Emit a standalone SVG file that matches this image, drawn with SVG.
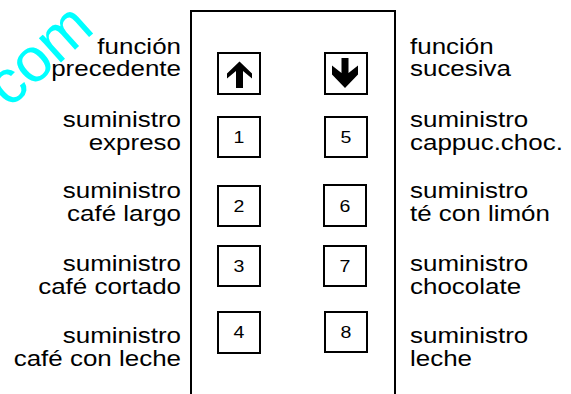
<svg xmlns="http://www.w3.org/2000/svg" width="571" height="394" viewBox="0 0 571 394">
<style>
.lbl{font-family:"Liberation Sans",Arial,sans-serif;font-size:22px;fill:#000}
.l{text-anchor:end}
.num{font-family:"Liberation Sans",Arial,sans-serif;font-size:17px;fill:#000;text-anchor:middle}
.btn{fill:#fff;stroke:#000;stroke-width:2}
.wm{font-family:"Liberation Sans",Arial,sans-serif;font-size:62px;fill:#00ffff}
</style>
<rect width="571" height="394" fill="#fff"/>
<text class="wm" transform="translate(9,109) rotate(-42)">com</text>
<g id="panel"><path d="M191,396 V11 H395 V396" fill="#fff" stroke="#000" stroke-width="2"/></g>

<g id="btn-up"><rect class="btn" x="218" y="53" width="42" height="41"/>
<polygon points="239.5,61.5 252,73.5 252,78.5 243,71 243,88 236,88 236,71 227,78.5 227,73.5" fill="#000"/></g>
<g id="btn-down"><rect class="btn" x="325" y="53" width="42" height="41"/>
<polygon points="341.5,58 348.5,58 348.5,73 358,65.5 358,74.5 345,88 332,74.5 332,65.5 341.5,73" fill="#000"/></g>
<g id="btn-1"><rect class="btn" x="218" y="117" width="42" height="40"/><text class="num" transform="translate(239,143) scale(1.15,1)">1</text></g>
<g id="btn-5"><rect class="btn" x="325" y="117" width="42" height="40"/><text class="num" transform="translate(346,143) scale(1.15,1)">5</text></g>
<g id="btn-2"><rect class="btn" x="218" y="186" width="42" height="40"/><text class="num" transform="translate(239,212) scale(1.15,1)">2</text></g>
<g id="btn-6"><rect class="btn" x="324" y="185" width="42" height="41"/><text class="num" transform="translate(345,212) scale(1.15,1)">6</text></g>
<g id="btn-3"><rect class="btn" x="218" y="246" width="42" height="40"/><text class="num" transform="translate(239,272) scale(1.15,1)">3</text></g>
<g id="btn-7"><rect class="btn" x="324" y="246" width="42" height="40"/><text class="num" transform="translate(345,272) scale(1.15,1)">7</text></g>
<g id="btn-4"><rect class="btn" x="218" y="312" width="42" height="41"/><text class="num" transform="translate(239,338) scale(1.15,1)">4</text></g>
<g id="btn-8"><rect class="btn" x="325" y="312" width="42" height="40"/><text class="num" transform="translate(346,338) scale(1.15,1)">8</text></g>

<g id="lbl-left-1"><text class="lbl l" transform="translate(181,54) scale(1.18,1)">función</text><text class="lbl l" transform="translate(181,76) scale(1.18,1)">precedente</text></g>
<g id="lbl-left-2"><text class="lbl l" transform="translate(181,127) scale(1.18,1)">suministro</text><text class="lbl l" transform="translate(181,150) scale(1.18,1)">expreso</text></g>
<g id="lbl-left-3"><text class="lbl l" transform="translate(181,198) scale(1.18,1)">suministro</text><text class="lbl l" transform="translate(181,221) scale(1.18,1)">café largo</text></g>
<g id="lbl-left-4"><text class="lbl l" transform="translate(181,271) scale(1.18,1)">suministro</text><text class="lbl l" transform="translate(181,294) scale(1.18,1)">café cortado</text></g>
<g id="lbl-left-5"><text class="lbl l" transform="translate(181,343) scale(1.18,1)">suministro</text><text class="lbl l" transform="translate(181,366) scale(1.18,1)">café con leche</text></g>

<g id="lbl-right-1"><text class="lbl" transform="translate(410,54) scale(1.18,1)">función</text><text class="lbl" transform="translate(410,76) scale(1.18,1)">sucesiva</text></g>
<g id="lbl-right-2"><text class="lbl" transform="translate(410,127) scale(1.18,1)">suministro</text><text class="lbl" transform="translate(410,150) scale(1.18,1)">cappuc.choc.</text></g>
<g id="lbl-right-3"><text class="lbl" transform="translate(410,198) scale(1.18,1)">suministro</text><text class="lbl" transform="translate(410,221) scale(1.18,1)">té con limón</text></g>
<g id="lbl-right-4"><text class="lbl" transform="translate(410,271) scale(1.18,1)">suministro</text><text class="lbl" transform="translate(410,294) scale(1.18,1)">chocolate</text></g>
<g id="lbl-right-5"><text class="lbl" transform="translate(410,343) scale(1.18,1)">suministro</text><text class="lbl" transform="translate(410,366) scale(1.18,1)">leche</text></g>
</svg>
